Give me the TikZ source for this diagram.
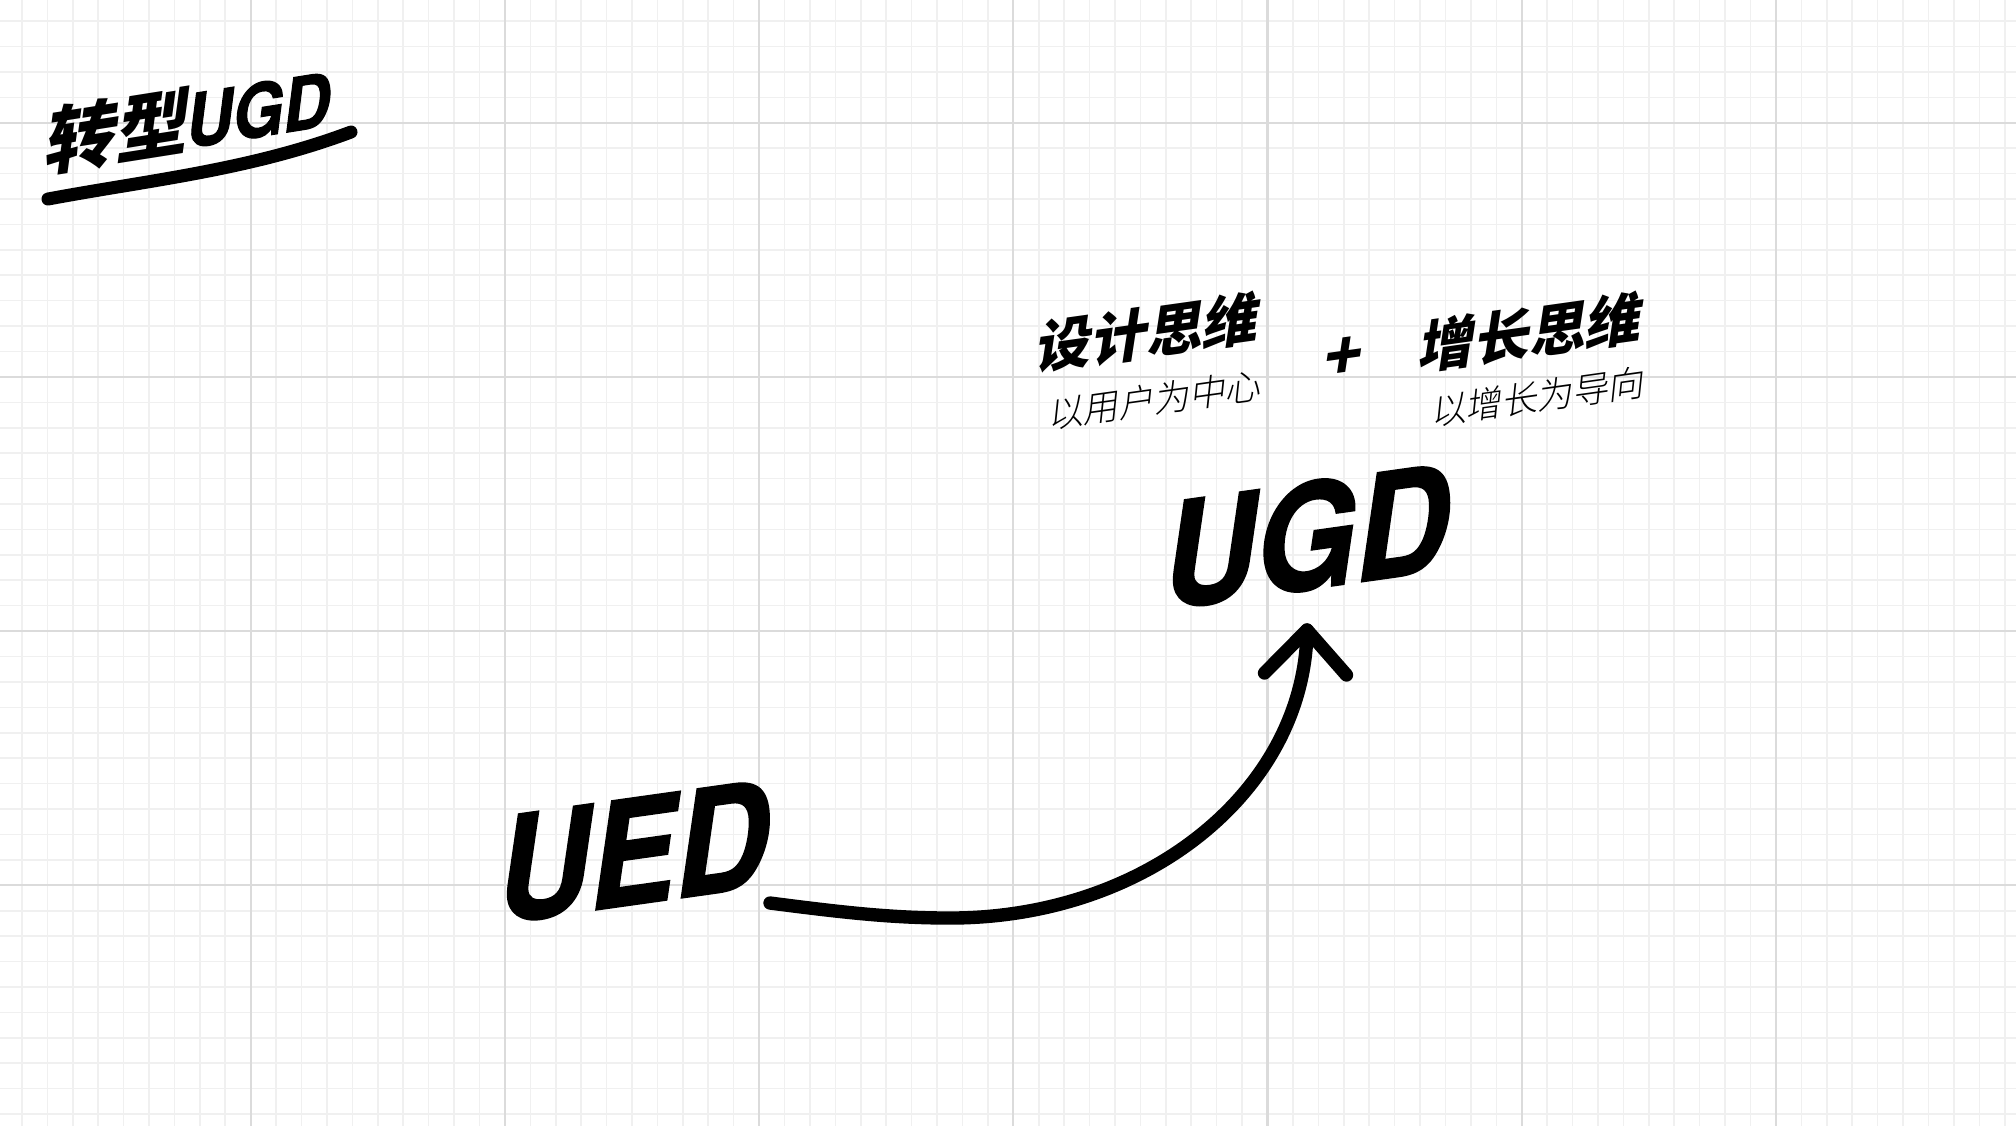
\documentclass[tikz,border=0pt]{standalone}
\usepackage{fontspec}
\IfFontExistsTF{Noto Sans CJK SC Black}
  {\newfontfamily\cjkB{Noto Sans CJK SC Black}[FakeSlant=0.3]}
  {\newfontfamily\cjkB{Noto Sans CJK SC Bold}[FakeSlant=0.3,FakeBold=1.5]}
\IfFontExistsTF{Noto Sans CJK SC Light}
  {\newfontfamily\cjkL{Noto Sans CJK SC Light}[FakeSlant=0.25]}
  {\newfontfamily\cjkL{Noto Sans CJK SC}[FakeSlant=0.25]}
\newfontfamily\latB{texgyreheros-bolditalic}[Extension=.otf,FakeStretch=0.9,FakeBold=1.5,FakeSlant=0.1]
\begin{document}
\begin{tikzpicture}[x=0.01cm,y=-0.01cm,
  minor/.style={draw=black!6, line width=0.45pt},
  major/.style={draw=black!14, line width=0.6pt},
  stroke/.style={line width=3.8pt, line cap=round, line join=round},
  ttl/.style={inner sep=0pt, rotate=8, font=\cjkB\fontsize{16pt}{16pt}\selectfont},
  sub/.style={inner sep=0pt, rotate=8, font=\cjkL\fontsize{10.2pt}{10.2pt}\selectfont},
  big/.style={inner sep=0pt, rotate=8, font=\latB\fontsize{41pt}{41pt}\selectfont},
  hdr/.style={inner sep=0pt, rotate=9, font=\fontsize{20.7pt}{21pt}\selectfont},
  plusmark/.style={inner sep=0pt, rotate=8, font=\cjkB\fontsize{18pt}{18pt}\selectfont}]
\fill[white] (0,0) rectangle (2016,1126);
\useasboundingbox (0,0) rectangle (2016,1126);
\begin{scope}
\clip (0,0) rectangle (2016,1126);
\foreach \k in {0,...,80}{\draw[minor] ({-3.5+25.42*\k},0) -- ({-3.5+25.42*\k},1126);}
\foreach \k in {0,...,45}{\draw[minor] (0,{-4.4+25.42*\k}) -- (2016,{-4.4+25.42*\k});}
\foreach \k in {0,...,8}{\draw[major] ({-3.5+254.2*\k},0) -- ({-3.5+254.2*\k},1126);}
\foreach \k in {0,...,3}{\draw[major] (0,{122.7+254.2*\k}) -- (2016,{122.7+254.2*\k});}
\end{scope}

% title
\node[hdr] (title) at (183,121) {{\cjkB 转型}{\latB UGD}};
\coordinate (ulA) at (48,199);
\coordinate (ulB) at (351,132);
\draw[stroke, line width=3.7pt] (ulA) .. controls (150,180) and (250,170) .. (ulB);

% headings
\node[ttl] (design) at (1143,333) {设计思维};
\node[sub] (designsub) at (1153,400) {以用户为中心};
\node[plusmark] (plus) at (1338,359) {+};
\node[ttl] (growth) at (1526,333) {增长思维};
\node[sub] (growthsub) at (1536,397) {以增长为导向};

% big words
\node[big] (ugd) at (1300,537) {UGD};
\node[big] (ued) at (627,853) {UED};

% arrow
\coordinate (arS) at (770,903);
\coordinate (arT) at (1307,630);
\draw[stroke] (arS) .. controls (840,912) and (890,918) .. (950,918)
  .. controls (1147,918) and (1305,790) .. (arT);
\draw[stroke] (arT) ++(-42.5,43) -- (arT) -- ++(39.5,45);
\end{tikzpicture}
\end{document}
